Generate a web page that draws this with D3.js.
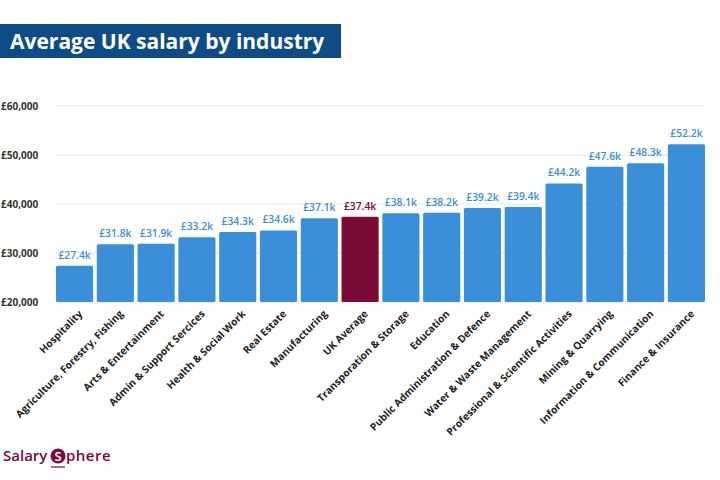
<!DOCTYPE html>
<html>
<head>
<meta charset="utf-8">
<script src="https://cdn.jsdelivr.net/npm/d3@7"></script>
<style>
  body { margin: 0; background: #fff; }
  svg { display: block; font-family: "Open Sans", sans-serif; }
</style>
</head>
<body>
<div id="chart"></div>
<script>
// industries, in the order they appear on the chart
const industries = [
    "Hospitality", "Agriculture, Forestry, Fishing", "Arts & Entertainment",
    "Admin & Support Sercices", "Health & Social Work", "Real Estate",
    "Manufacturing", "UK Average", "Transporation & Storage", "Education",
    "Public Administration & Defence", "Water & Waste Management",
    "Professional & Scientific Activities", "Mining & Quarrying",
    "Information & Communication", "Finance & Insurance"
];
// average salary, in thousands of pounds
const salaries = [27.4, 31.8, 31.9, 33.2, 34.3, 34.6, 37.1, 37.4, 38.1, 38.2, 39.2, 39.4, 44.2, 47.6, 48.3, 52.2];
const yTicks = [20000, 30000, 40000, 50000, 60000];
const highlight = "UK Average";

const width = 720;
const height = 480;
const margin = {top: 106, right: 15, bottom: 178, left: 56};

const blue = "#3a8fd8";
const maroon = "#7a0a36";

const data = industries.map((name, i) => ({name: name, value: salaries[i] * 1000, label: "£" + salaries[i].toFixed(1) + "k"}));

const svg = d3.select("#chart").append("svg")
    .attr("width", width)
    .attr("height", height);

// title box
svg.append("rect")
    .attr("x", 0).attr("y", 24)
    .attr("width", 341).attr("height", 34)
    .attr("fill", "#0f4c87");
svg.append("text")
    .attr("x", 10).attr("y", 49)
    .attr("fill", "#fff")
    .style("font-size", "21px")
    .style("font-weight", 700)
    .text("Average UK salary by industry");

const x = d3.scaleBand()
    .domain(industries)
    .range([margin.left, width - margin.right])
    .paddingInner(0.09)
    .paddingOuter(0);

const y = d3.scaleLinear()
    .domain([20000, 60000])
    .range([height - margin.bottom, margin.top]);

// gridlines
svg.append("g")
    .selectAll("line")
    .data(yTicks)
    .enter().append("line")
    .attr("x1", margin.left)
    .attr("x2", width - margin.right - 1)
    .attr("y1", d => y(d))
    .attr("y2", d => y(d))
    .attr("stroke", "#e6e6e6")
    .attr("stroke-width", 1);

// y axis labels
svg.append("g")
    .selectAll("text")
    .data(yTicks)
    .enter().append("text")
    .attr("x", 1)
    .attr("y", d => y(d))
    .attr("dy", "0.35em")
    .attr("fill", "#333")
    .style("font-size", "10px")
    .style("font-weight", 700)
    .text(d => "£" + d3.format(",")(d));

// bars
svg.append("g")
    .selectAll("rect")
    .data(data)
    .enter().append("rect")
    .attr("x", d => x(d.name))
    .attr("y", d => y(d.value))
    .attr("width", x.bandwidth())
    .attr("height", d => y(20000) - y(d.value))
    .attr("rx", 1.5)
    .attr("fill", d => d.name === highlight ? maroon : blue);

// value labels
svg.append("g")
    .selectAll("text")
    .data(data)
    .enter().append("text")
    .attr("x", d => x(d.name) + x.bandwidth() / 2)
    .attr("y", d => y(d.value) - 7)
    .attr("text-anchor", "middle")
    .attr("fill", d => d.name === highlight ? maroon : blue)
    .style("font-size", "10.3px")
    .style("font-weight", 600)
    .text(d => d.label);

// category labels
svg.append("g")
    .selectAll("text")
    .data(data)
    .enter().append("text")
    .attr("transform", d => `translate(${x(d.name) + x.bandwidth() / 2 + 6},${y(20000) + 10}) rotate(-45)`)
    .attr("text-anchor", "end")
    .attr("dy", "0.35em")
    .attr("fill", "#222")
    .style("font-size", "10.2px")
    .style("font-weight", 700)
    .text(d => d.name);

// logo
const logo = svg.append("g").attr("transform", "translate(3,461)");
logo.append("text")
    .attr("x", 0).attr("y", 0)
    .attr("fill", maroon)
    .style("font-size", "15px")
    .style("font-weight", 600)
    .text("Salary");
logo.append("circle")
    .attr("cx", 55).attr("cy", -5)
    .attr("r", 7.5)
    .attr("fill", maroon);
logo.append("text")
    .attr("x", 55).attr("y", 0)
    .attr("text-anchor", "middle")
    .attr("fill", "#fff")
    .style("font-size", "13px")
    .style("font-weight", 600)
    .text("S");
logo.append("line")
    .attr("x1", 48).attr("x2", 62)
    .attr("y1", 6).attr("y2", 6)
    .attr("stroke", maroon)
    .attr("stroke-width", 1.2);
logo.append("text")
    .attr("x", 63).attr("y", 0)
    .attr("fill", maroon)
    .style("font-size", "15px")
    .style("font-weight", 600)
    .style("letter-spacing", "0.5px")
    .text("phere");
</script>
</body>
</html>
